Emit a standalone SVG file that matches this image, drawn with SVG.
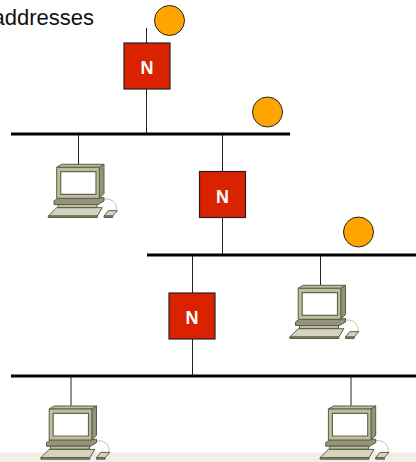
<svg xmlns="http://www.w3.org/2000/svg" width="416" height="462" viewBox="0 0 416 462">
<style>
.bus{stroke:#000;stroke-width:3;fill:none}
.wire{stroke:#222;stroke-width:1;fill:none}
.box{fill:#da2200;stroke:#222;stroke-width:1.2}
.lbl{font-family:"Liberation Sans",Arial,sans-serif;font-weight:bold;font-size:18px;fill:#fff;text-anchor:middle}
.sun{fill:#ffa500;stroke:#222;stroke-width:1}
.p1{fill:#bdbda2;stroke:#5c5c44;stroke-width:1;stroke-linejoin:round}
.p2{fill:#94947a;stroke:#5c5c44;stroke-width:1;stroke-linejoin:round}
.p3{fill:#d4d4c0;stroke:#5c5c44;stroke-width:1;stroke-linejoin:round}
</style>
<defs>
<g id="pc">
<path d="M104 199C114 198 118 206 116 211" fill="none" stroke="#c4c4b4" stroke-width="1"/>
<path class="p2" d="M54 201L58 198H98L104 197.500V201L98 204.500H54Z"/>
<path class="p1" d="M58 204.500H97V207.500H58Z"/>
<path class="p1" d="M56.700 167.300L61.700 164.300H104L99.300 167.300Z"/>
<path class="p2" d="M99.300 167.300L104 164.300V193.500L99.300 198.300Z"/>
<path class="p1" d="M56.700 167.300H99.300V198.300H56.700Z"/>
<path d="M60.700 171.700H96V194.300H60.700Z" fill="#fff" stroke="#66664e" stroke-width="1.200"/>
<path class="p3" d="M48.300 216L56.700 207.700H102.300L97.300 216Z"/>
<path class="p2" d="M48.300 216H97.300V217.500H48.300Z"/>
<path class="p3" d="M104 216L108.300 210.700H117.300L112.700 216Z"/>
<path class="p2" d="M104 216H112.700V217.500H104Z"/>
</g>
</defs>
<rect x="0" y="452.500" width="416" height="9.500" fill="#f0f0e6"/>
<text x="94" y="25" font-family="&quot;Liberation Sans&quot;,Arial,sans-serif" font-size="22" fill="#111" text-anchor="end">addresses</text>
<g id="connectors">
<path class="wire" d="M146.500 28V134M222.500 134V255M192.500 255V376M78.500 134V165M320.500 255V285M71 376V406M351 376V406"/>
<path class="bus" d="M11 134H290M147 255H416M11 376H416"/>
</g>
<g id="nat1"><rect class="box" x="124" y="43" width="46" height="46"/><text class="lbl" x="147" y="74">N</text></g>
<g id="nat2"><rect class="box" x="199.500" y="171.500" width="46" height="46"/><text class="lbl" x="222.500" y="203">N</text></g>
<g id="nat3"><rect class="box" x="169" y="293" width="46" height="46"/><text class="lbl" x="192" y="324">N</text></g>
<g id="addr1"><circle class="sun" cx="169.500" cy="20.500" r="15"/></g>
<g id="addr2"><circle class="sun" cx="267.500" cy="112" r="15"/></g>
<g id="addr3"><circle class="sun" cx="358.500" cy="232" r="15"/></g>
<g id="pc1"><use href="#pc"/></g>
<g id="pc2"><use href="#pc" x="241.500" y="121"/></g>
<g id="pc3"><use href="#pc" x="-7.500" y="241.700"/></g>
<g id="pc4"><use href="#pc" x="271.700" y="241.700"/></g>
</svg>
